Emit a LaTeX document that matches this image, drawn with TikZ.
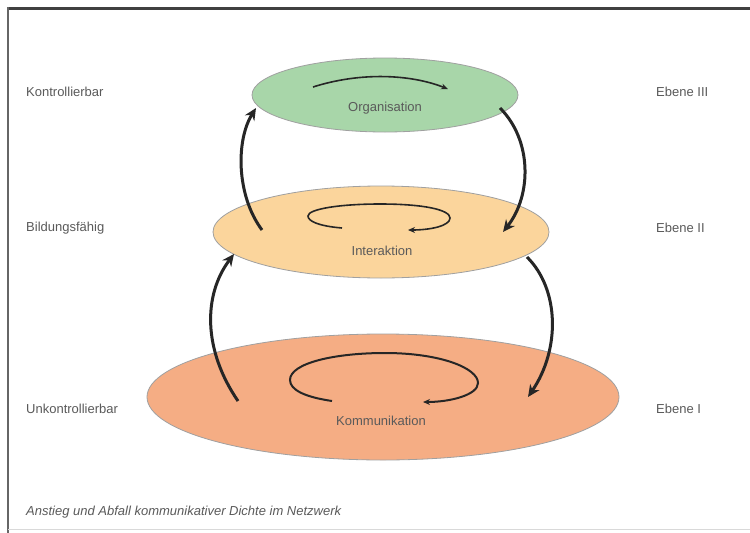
\documentclass[tikz,border=0pt]{standalone}
\usepackage{fontspec}
\setmainfont{Liberation Sans}
\usetikzlibrary{shapes.geometric,arrows.meta}
\definecolor{cgreen}{HTML}{A8D6A9}
\definecolor{clight}{HTML}{FBD59C}
\definecolor{csalmon}{HTML}{F5AD84}
\definecolor{ctext}{HTML}{5A5A5A}
\definecolor{cedge}{HTML}{A0A0A0}
\tikzset{
  level/.style={ellipse, draw=cedge, line width=0.8pt, inner sep=0pt},
  sidelabel/.style={anchor=west, text=ctext, font=\fontsize{13}{15}\selectfont, inner sep=0pt},
  midlabel/.style={text=ctext, font=\fontsize{13}{15}\selectfont, inner sep=0pt},
  bigarrow/.style={line width=3pt, draw=black!85, -{Stealth[length=12pt,width=11pt]}},
  spiral/.style={line width=1.6pt, draw=black!85, -{Stealth[length=7pt,width=6pt]}},
}
\begin{document}
\begin{tikzpicture}[x=1pt,y=-1pt]
\useasboundingbox (0,0) rectangle (750,533);
\fill[white] (0,0) rectangle (750,533);
% frame
\draw[line width=3pt, black!75] (7,8) -- (750,8);
\draw[line width=2pt, black!60] (8,7) -- (8,533);
\draw[line width=0.6pt, black!15] (8,529) -- (750,529);

% levels
\node[level, fill=csalmon, minimum width=472pt, minimum height=126pt] (komm) at (383,397) {};
\node[level, fill=clight, minimum width=336pt, minimum height=92pt] (inter) at (381,232) {};
\node[level, fill=cgreen, minimum width=266pt, minimum height=74pt] (orga) at (385,95) {};

\node[midlabel] (lorga) at (385,108) {Organisation};
\node[midlabel] (linter) at (382,251) {Interaktion};
\node[midlabel] (lkomm) at (381,421) {Kommunikation};

% side labels
\node[sidelabel] (kon) at (26,92) {Kontrollierbar};
\node[sidelabel] (bil) at (26,228) {Bildungsfähig};
\node[sidelabel] (unk) at (26,409) {Unkontrollierbar};
\node[sidelabel] (e3) at (656,92) {Ebene III};
\node[sidelabel] (e2) at (656,228) {Ebene II};
\node[sidelabel] (e1) at (656,409) {Ebene I};
\node[sidelabel, font=\fontsize{13}{15}\selectfont\itshape] (cap) at (26,512) {Anstieg und Abfall kommunikativer Dichte im Netzwerk};

% connector end points
\coordinate (a1s) at (262,230); \coordinate (a1e) at (256,108);
\coordinate (a2s) at (500,108); \coordinate (a2e) at (503,232);
\coordinate (a3s) at (238,401); \coordinate (a3e) at (234,254);
\coordinate (a4s) at (527,257); \coordinate (a4e) at (528,397);

\draw[bigarrow] (a1s) .. controls (236,195) and (236,140) .. (a1e);
\draw[bigarrow] (a2s) .. controls (532,140) and (532,195) .. (a2e);
\draw[bigarrow] (a3s) .. controls (203,350) and (203,295) .. (a3e);
\draw[bigarrow] (a4s) .. controls (560,290) and (560,350) .. (a4e);

% spirals
\coordinate (s1s) at (313,87); \coordinate (s1e) at (448,89);
\draw[spiral] (s1s) .. controls (360,72) and (410,74) .. (s1e);

\coordinate (s2s) at (342,228); \coordinate (s2e) at (408,230);
\draw[spiral] (s2s) .. controls (318,226) and (308,221) .. (308,216)
  .. controls (308,209) and (340,204) .. (380,204)
  .. controls (425,204) and (450,210) .. (450,218)
  .. controls (450,226) and (430,230) .. (s2e);

\coordinate (s3s) at (332,401); \coordinate (s3e) at (423,402);
\draw[spiral, line width=2pt] (s3s) .. controls (305,397) and (290,390) .. (290,380)
  .. controls (290,363) and (335,353) .. (385,353)
  .. controls (440,353) and (478,368) .. (478,383)
  .. controls (478,395) and (450,402) .. (s3e);
\end{tikzpicture}
\end{document}
